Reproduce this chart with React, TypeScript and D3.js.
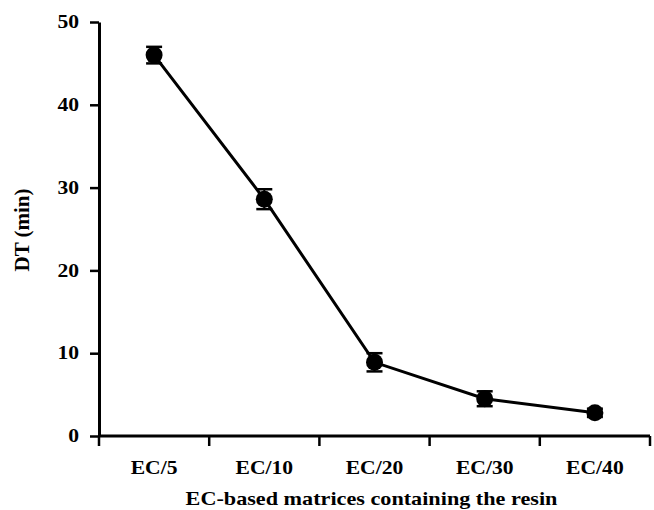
import * as d3 from 'd3';
import React, { useEffect, useRef } from 'react';

// data
const categories = ['EC/5', 'EC/10', 'EC/20', 'EC/30', 'EC/40'];
const dtValues = [46.0, 28.6, 8.9, 4.5, 2.8];
const dtErrors = [1.0, 1.2, 1.1, 0.9, 0.5];
const yTicks = [0, 10, 20, 30, 40, 50];

const xTitle = 'EC-based matrices containing the resin';
const yTitle = 'DT (min)';

const font = '"Liberation Serif", "Times New Roman", serif';
const sx = 1.2; // text in the scan is stretched horizontally

export default function App() {
  const ref = useRef<SVGSVGElement>(null);

  useEffect(() => {
    const svg = d3.select(ref.current);
    svg.selectAll('*').remove();

    const x = d3.scaleBand<string>().domain(categories).range([99, 650]);
    const y = d3.scaleLinear().domain([0, 50]).range([436, 22]);
    const cx = (c: string) => (x(c) as number) + x.bandwidth() / 2;

    const g = svg.append('g');

    // y axis
    const yAxis = g.append('g')
      .attr('transform', 'translate(99,0)')
      .call(d3.axisLeft(y).tickValues(yTicks).tickSize(9).tickSizeOuter(0).tickPadding(11));
    yAxis.select('.domain').attr('stroke-width', 3);
    yAxis.selectAll('.tick line').attr('stroke-width', 2.5);
    yAxis.selectAll('.tick text')
      .attr('x', -20 / sx)
      .attr('transform', `scale(${sx},1)`)
      .style('font-family', font)
      .style('font-weight', 'bold')
      .style('font-size', '18px')
      .attr('fill', '#000');

    // x axis: line and ticks at the category boundaries
    g.append('line')
      .attr('x1', x.range()[0]).attr('x2', x.range()[1])
      .attr('y1', y(0)).attr('y2', y(0))
      .attr('stroke', '#000').attr('stroke-width', 3);
    const bounds = [...categories.map(c => x(c) as number), x.range()[1]];
    g.selectAll('.xtick')
      .data(bounds)
      .enter()
      .append('line')
      .attr('x1', d => d).attr('x2', d => d)
      .attr('y1', y(0)).attr('y2', y(0) + 10)
      .attr('stroke', '#000').attr('stroke-width', 2.5);
    g.selectAll('.xlabel')
      .data(categories)
      .enter()
      .append('text')
      .attr('transform', d => `translate(${cx(d)},473.5) scale(${sx},1)`)
      .attr('text-anchor', 'middle')
      .style('font-family', font)
      .style('font-weight', 'bold')
      .style('font-size', '18px')
      .text(d => d);

    // titles
    g.append('text')
      .attr('transform', `translate(${(x.range()[0] + x.range()[1]) / 2 - 3},505) scale(${sx},1)`)
      .attr('text-anchor', 'middle')
      .style('font-family', font)
      .style('font-weight', 'bold')
      .style('font-size', '18.5px')
      .text(xTitle);
    g.append('text')
      .attr('transform', 'translate(29,230) rotate(-90)')
      .attr('text-anchor', 'middle')
      .style('font-family', font)
      .style('font-weight', 'bold')
      .style('font-size', '21px')
      .text(yTitle);

    // line
    const line = d3.line<number>()
      .x((d, i) => cx(categories[i]))
      .y(d => y(d));
    g.append('path')
      .datum(dtValues)
      .attr('fill', 'none')
      .attr('stroke', '#000')
      .attr('stroke-width', 3)
      .attr('d', line);

    // error bars
    const eb = g.selectAll('.err')
      .data(dtValues)
      .enter()
      .append('g');
    eb.append('line')
      .attr('x1', (d, i) => cx(categories[i])).attr('x2', (d, i) => cx(categories[i]))
      .attr('y1', (d, i) => y(d - dtErrors[i])).attr('y2', (d, i) => y(d + dtErrors[i]))
      .attr('stroke', '#000').attr('stroke-width', 2);
    [-1, 1].forEach(s => {
      eb.append('line')
        .attr('x1', (d, i) => cx(categories[i]) - 8).attr('x2', (d, i) => cx(categories[i]) + 8)
        .attr('y1', (d, i) => y(d + s * dtErrors[i])).attr('y2', (d, i) => y(d + s * dtErrors[i]))
        .attr('stroke', '#000').attr('stroke-width', 2.5);
    });

    // markers
    g.selectAll('circle')
      .data(dtValues)
      .enter()
      .append('circle')
      .attr('cx', (d, i) => cx(categories[i]))
      .attr('cy', d => y(d))
      .attr('r', 8.5)
      .attr('fill', '#000');
  }, []);

  return (
    <svg ref={ref} width={654} height={510}
      style={{ position: 'absolute', left: 0, top: 0, background: '#fff' }} />
  );
}
